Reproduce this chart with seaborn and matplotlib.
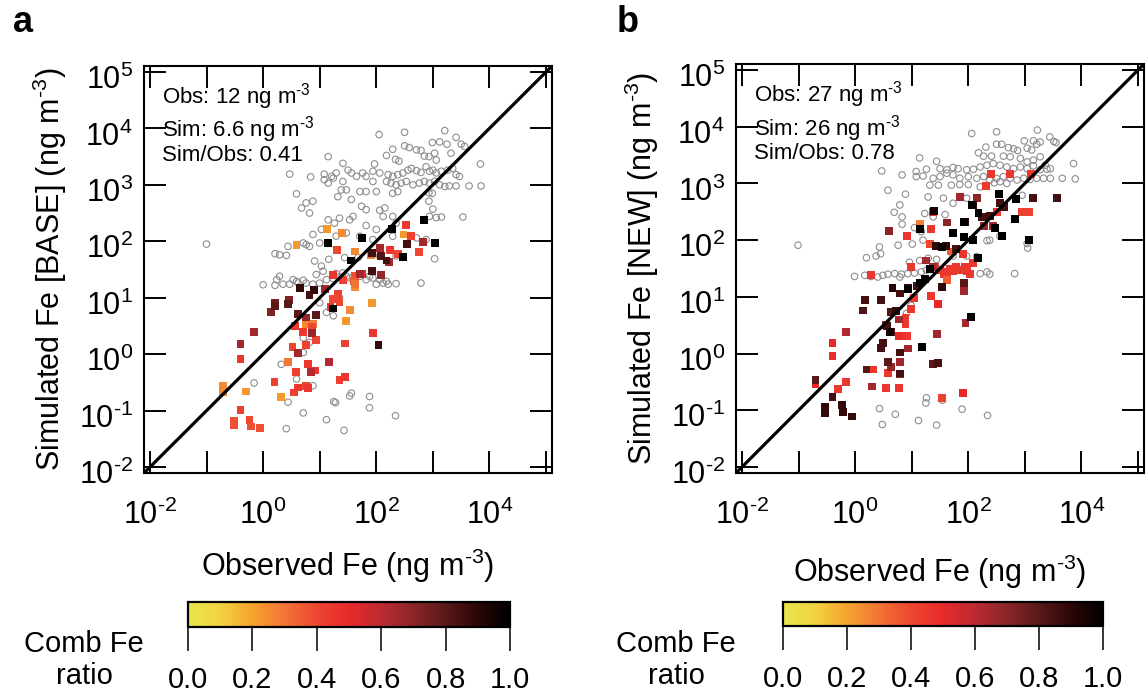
import numpy as np
import matplotlib
matplotlib.use("Agg")
import matplotlib.pyplot as plt
import seaborn as sns
from matplotlib.colors import LinearSegmentedColormap, Normalize
from matplotlib.cm import ScalarMappable
from matplotlib.ticker import LogLocator, NullLocator, FuncFormatter
from matplotlib.transforms import ScaledTranslation

# ---------------- data (log10 of ng m-3) ----------------
# panel a: BASE  -- grey open circles (all sites): (log10 obs, log10 sim)
base_gray = [
    (2.05, 3.89), (2.50, 3.93), (3.21, 3.96), (3.41, 3.84), (3.50, 3.72), (3.56, 3.68), (2.99, 3.75),
    (3.12, 3.76), (3.25, 3.72), (2.50, 3.69), (2.58, 3.66), (2.71, 3.62), (2.79, 3.61), (2.85, 3.51),
    (2.93, 3.50), (3.03, 3.56), (3.06, 3.44), (3.32, 3.56), (3.84, 3.37), (2.18, 3.52), (2.29, 3.63),
    (2.34, 3.45), (2.40, 3.42), (1.97, 3.37), (1.41, 3.38), (1.15, 3.50), (1.08, 3.19), (1.08, 3.09),
    (1.21, 3.15), (1.29, 3.21), (1.41, 3.06), (1.50, 3.26), (1.56, 3.21), (1.65, 3.15), (1.76, 3.21),
    (1.82, 3.15), (1.94, 3.24), (2.06, 3.21), (2.21, 3.18), (2.29, 3.15), (2.38, 3.18), (2.47, 3.21),
    (2.56, 3.26), (2.62, 3.29), (2.71, 3.25), (2.79, 3.22), (2.88, 3.32), (2.94, 3.24), (3.00, 3.26),
    (3.06, 3.21), (3.15, 3.24), (3.26, 3.26), (3.35, 3.29), (3.41, 3.18), (3.47, 3.15), (2.18, 3.06),
    (2.26, 3.03), (2.35, 3.00), (2.44, 3.03), (2.53, 3.06), (2.65, 3.00), (2.76, 3.03), (2.85, 3.06),
    (2.94, 3.03), (3.03, 3.06), (3.12, 3.00), (3.21, 2.97), (3.29, 2.98), (3.41, 2.98), (3.64, 2.98),
    (3.85, 2.98), (1.94, 3.06), (2.00, 2.88), (1.82, 2.88), (1.71, 2.88), (1.47, 2.91), (1.38, 2.91),
    (1.32, 2.79), (1.56, 2.74), (1.74, 2.62), (1.82, 2.56), (2.06, 2.55), (2.15, 2.59), (2.29, 2.85),
    (2.38, 2.88), (2.93, 2.86), (2.99, 2.85), (2.93, 2.71), (3.00, 2.57), (2.94, 2.44), (3.06, 2.42),
    (3.15, 2.43), (3.53, 2.43), (0.47, 3.19), (0.84, 3.14), (0.59, 2.84), (0.68, 2.59), (0.82, 2.50),
    (0.76, 2.68), (0.88, 2.71), (1.15, 3.03), (1.24, 3.12),
    (1.15, 2.38), (1.26, 2.32), (1.35, 2.41), (1.53, 2.38), (1.59, 2.44), (1.82, 2.28), (2.00, 2.21),
    (2.12, 2.44), (2.29, 2.44), (2.35, 2.32), (1.03, 2.21), (0.88, 2.12), (0.71, 1.97), (0.76, 1.94),
    (0.82, 1.91), (0.44, 1.91), (1.00, 1.97), (1.29, 2.09), (1.47, 2.15), (1.71, 2.09), (1.94, 2.03),
    (2.29, 2.09), (2.71, 2.06), (2.88, 2.03), (0.29, 1.76), (0.41, 1.75), (0.21, 1.78), (0.91, 1.65),
    (1.03, 1.56), (1.16, 1.68), (1.44, 1.71), (1.68, 1.71), (1.94, 1.76), (2.06, 1.74), (2.35, 1.74),
    (3.03, 1.69), (0.53, 1.32), (0.59, 1.29), (0.71, 1.31), (0.29, 1.38), (0.24, 1.32), (0.00, 1.23),
    (0.21, 1.22), (0.35, 1.24), (0.47, 1.24), (0.62, 1.26), (0.76, 1.26), (0.88, 1.24), (1.00, 1.26),
    (1.12, 1.32), (1.24, 1.34), (1.35, 1.37), (1.47, 1.38), (1.59, 1.32), (1.71, 1.38), (1.82, 1.32),
    (1.94, 1.35), (2.06, 1.32), (2.18, 1.29), (0.94, 1.41), (1.06, 1.47), (1.29, 1.43), (1.41, 1.44),
    (1.53, 1.35), (1.76, 1.41), (1.88, 1.38), (2.00, 1.24), (2.12, 1.26), (2.21, 1.24), (2.35, 1.25),
    (2.79, 1.26), (-1.00, 1.95), (1.00, 0.91), (1.12, 0.74), (1.24, 0.68), (1.35, 1.00), (0.71, 0.29),
    (0.82, 0.21), (0.71, 0.03), (0.32, -0.18), (0.59, -0.44), (0.88, -0.56), (0.44, -0.85), (0.41, -1.32),
    (0.71, -1.04), (1.12, -1.16), (1.25, -0.84), (1.28, -0.86), (1.43, -1.35), (1.53, -0.74), (1.56, -0.69),
    (1.88, -0.75), (1.88, -0.95), (2.34, -1.09), (-0.16, -0.51),
]
# panel a: BASE -- coloured squares (sites with combustion Fe ratio): (log10 obs, log10 sim, ratio)
base_sq = [
    (1.13, 2.21, 0.22), (1.40, 2.14, 0.25), (0.59, 1.94, 0.22), (1.62, 1.82, 0.25), (1.90, 1.75, 0.28),
    (2.48, 2.12, 0.22), (1.62, 1.18, 0.25), (1.92, 0.90, 0.22), (1.53, 0.79, 0.25), (1.46, 0.59, 0.22),
    (0.76, 0.53, 0.25), (0.88, 0.53, 0.28), (0.44, -0.14, 0.30), (-0.31, -0.66, 0.22), (0.32, -0.76, 0.22),
    (-0.71, -0.57, 0.25), (-0.71, -0.68, 0.25),
    (2.53, 2.29, 0.45), (2.62, 2.10, 0.42), (2.75, 1.81, 0.40), (1.31, 1.85, 0.40), (1.24, 1.41, 0.45),
    (1.41, 1.31, 0.42), (1.62, 1.38, 0.38), (1.74, 1.42, 0.50), (2.24, 1.85, 0.45), (2.38, 1.78, 0.42),
    (1.32, 1.06, 0.42), (1.24, 0.98, 0.40), (1.35, 0.93, 0.40), (1.19, 0.84, 0.45), (1.61, 1.29, 0.35),
    (1.62, 1.24, 0.30), (0.56, 0.50, 0.45), (0.71, 0.39, 0.45), (0.87, 0.48, 0.40), (0.93, 0.25, 0.40),
    (0.76, 0.16, 0.42), (0.52, 0.13, 0.40), (1.44, 0.19, 0.42), (1.94, 0.38, 0.45), (0.79, -0.18, 0.45),
    (0.58, -0.31, 0.42), (0.84, -0.32, 0.48), (0.92, -0.29, 0.45), (0.20, -0.50, 0.42), (0.55, -0.68, 0.42),
    (0.62, -0.59, 0.45), (0.76, -0.56, 0.40), (0.79, -0.60, 0.45), (1.35, -0.45, 0.42), (1.45, -0.41, 0.45),
    (-0.40, -0.09, 0.45), (-0.40, -0.99, 0.42), (-0.52, -1.19, 0.38), (-0.52, -1.26, 0.38), (-0.24, -1.16, 0.40),
    (-0.22, -1.28, 0.38), (-0.05, -1.31, 0.38),
    (2.83, 1.99, 0.65), (2.06, 1.88, 0.65), (2.22, 1.64, 0.65), (2.08, 1.40, 0.68), (1.71, 1.42, 0.65),
    (1.09, 1.15, 0.65), (0.76, 0.65, 0.68), (0.87, 0.38, 0.68), (0.62, 0.02, 0.65), (1.16, -0.14, 0.62),
    (0.84, -0.32, 0.62), (-0.16, 0.39, 0.65), (-0.40, 0.18, 0.65), (0.45, 0.96, 0.72), (0.14, 0.75, 0.72),
    (0.21, 0.91, 0.75),
    (1.92, 1.79, 0.85), (2.09, 1.74, 0.82), (2.18, 1.66, 0.85), (1.92, 1.47, 0.85), (0.65, 1.17, 0.88),
    (0.82, 1.05, 0.85), (0.90, 1.13, 0.88), (0.62, 0.71, 0.80), (0.93, 0.69, 0.80), (0.21, 0.85, 0.80),
    (0.44, 0.89, 0.80), (2.04, 0.17, 0.88), (2.55, 1.95, 0.85),
    (2.85, 2.38, 1.00), (2.28, 2.21, 1.00), (1.74, 2.06, 1.00), (1.14, 1.97, 1.00), (3.04, 1.97, 1.00),
    (2.47, 1.72, 1.00), (1.55, 1.66, 1.00), (1.24, 0.81, 1.00),
]

# panel b: NEW -- grey open circles
new_gray = [
    (2.06, 3.88), (2.50, 3.91), (3.22, 3.94), (2.99, 3.75), (3.15, 3.75), (3.27, 3.73), (3.44, 3.82),
    (3.51, 3.74), (3.55, 3.72), (2.31, 3.64), (2.50, 3.69), (2.59, 3.69), (2.71, 3.63), (2.80, 3.61),
    (2.87, 3.58), (3.04, 3.62), (3.12, 3.59), (3.21, 3.69), (2.18, 3.54), (2.27, 3.48), (2.41, 3.48),
    (2.62, 3.48), (2.74, 3.47), (2.92, 3.44), (3.04, 3.38), (3.15, 3.41), (3.27, 3.47), (3.36, 3.32),
    (3.45, 3.26), (3.86, 3.35), (1.14, 3.45), (1.44, 3.39), (1.26, 3.25), (1.08, 3.21), (0.83, 3.15),
    (0.47, 3.22), (1.50, 3.26), (1.62, 3.24), (1.73, 3.28), (1.82, 3.26), (1.97, 3.24), (2.09, 3.25),
    (2.21, 3.29), (2.33, 3.32), (2.44, 3.35), (2.56, 3.32), (2.68, 3.29), (2.80, 3.26), (2.92, 3.29),
    (3.04, 3.26), (3.15, 3.31), (3.27, 3.24), (3.39, 3.25), (1.08, 3.12), (1.20, 3.13), (1.38, 3.09),
    (1.50, 3.12), (1.62, 3.18), (1.73, 3.15), (1.85, 3.09), (2.00, 3.12), (2.15, 3.09), (2.27, 3.12),
    (2.38, 3.06), (2.50, 3.09), (2.62, 3.12), (2.74, 3.09), (2.86, 3.06), (2.98, 3.09), (3.09, 3.07),
    (3.21, 3.09), (3.33, 3.09), (3.45, 3.09), (3.66, 3.09), (3.89, 3.08), (1.32, 2.97), (1.47, 2.97),
    (1.70, 2.97), (1.85, 2.98), (2.00, 2.98), (2.21, 2.94), (2.46, 3.01), (2.56, 3.03), (2.68, 3.00),
    (0.58, 2.88), (0.89, 2.81), (1.29, 2.76), (1.56, 2.74), (1.73, 2.65), (1.97, 2.74), (2.95, 2.79),
    (0.79, 2.62), (0.69, 2.49), (0.83, 2.41), (0.83, 2.28), (1.23, 2.47), (1.38, 2.41), (1.59, 2.45),
    (1.05, 2.22), (1.17, 2.15), (1.20, 2.00), (1.01, 1.93), (0.76, 1.91), (0.43, 1.88), (0.45, 1.76),
    (0.37, 1.72), (0.20, 1.69), (0.96, 1.61), (1.14, 1.64), (1.29, 1.68), (1.44, 1.66), (1.73, 1.72),
    (1.97, 1.72), (2.15, 1.71), (2.33, 1.99), (2.38, 2.00), (2.56, 2.07), (3.04, 1.94), (3.05, 1.86),
    (-1.01, 1.91), (-0.01, 1.36), (0.17, 1.38), (0.28, 1.36), (0.40, 1.35), (0.49, 1.38), (0.58, 1.40),
    (0.70, 1.41), (0.82, 1.40), (0.93, 1.41), (1.05, 1.42), (1.17, 1.44), (1.26, 1.47), (0.79, 1.35),
    (2.21, 1.41), (2.33, 1.44), (2.38, 1.40), (2.82, 1.41), (1.26, -0.78), (1.25, -0.87), (1.54, -0.82),
    (1.89, -0.98), (0.43, -0.97), (0.71, -1.07), (0.48, -1.25), (1.12, -1.18), (1.44, -1.26), (2.34, -1.09),
    (0.99, 0.85), (0.91, 0.71),
]
# panel b: NEW -- coloured squares: (log10 obs, log10 sim, ratio)
new_sq = [
    (2.40, 3.16, 0.45), (2.74, 3.16, 0.45), (3.11, 3.16, 0.45), (2.31, 2.96, 0.45), (2.51, 2.49, 0.45),
    (2.95, 2.50, 0.42), (3.08, 2.50, 0.42), (1.37, 2.49, 0.45), (1.34, 2.19, 0.45), (0.92, 2.08, 0.45),
    (1.32, 1.93, 0.40), (1.91, 1.76, 0.45), (2.09, 1.60, 0.45), (0.98, 1.52, 0.45), (0.28, 1.39, 0.45),
    (1.41, 1.53, 0.45), (1.50, 1.47, 0.45), (1.62, 1.44, 0.45), (1.73, 1.46, 0.45), (1.85, 1.47, 0.45),
    (1.97, 1.46, 0.45), (2.03, 1.41, 0.45), (1.67, 1.50, 0.45), (1.79, 1.53, 0.45), (1.94, 1.52, 0.45),
    (1.57, 1.41, 0.45), (1.04, 0.98, 0.45), (1.34, 1.01, 0.45), (1.47, 0.87, 0.50), (0.89, 0.62, 0.45),
    (0.89, 0.52, 0.45), (0.92, 0.31, 0.45), (0.77, 0.31, 0.50), (-0.40, 0.18, 0.50), (-0.40, -0.05, 0.48),
    (-0.16, -0.50, 0.45), (-0.31, -0.62, 0.45), (0.31, -0.28, 0.45), (0.58, -0.34, 0.45), (0.55, -0.60, 0.45),
    (0.77, -0.60, 0.45), (1.53, -0.79, 0.42), (1.91, -0.69, 0.50), (-0.70, -0.53, 0.50), (0.98, 0.79, 0.45),
    (1.14, 2.28, 0.28), (1.69, 1.80, 0.35), (1.62, 1.29, 0.35),
    (1.85, 2.76, 0.65), (2.16, 2.75, 0.70), (1.62, 2.31, 0.70), (2.28, 2.25, 0.68), (2.44, 2.25, 0.65),
    (0.60, 2.16, 0.70), (1.25, 1.64, 0.65), (1.38, 1.52, 0.65), (1.93, 1.11, 0.65), (1.95, 0.54, 0.65),
    (1.44, 0.35, 0.65), (0.78, 0.60, 0.65), (0.55, 0.50, 0.68), (0.30, -0.58, 0.65), (-0.16, 0.38, 0.62),
    (0.93, 0.09, 0.65), (0.80, -0.15, 0.65), (0.64, -0.24, 0.68), (0.79, -0.36, 0.70),
    (2.09, 2.62, 0.88), (2.56, 2.66, 0.85), (3.15, 2.75, 0.85), (3.57, 2.75, 0.85), (2.63, 2.59, 0.85),
    (2.24, 2.41, 0.85), (2.38, 2.42, 0.85), (1.94, 2.32, 0.88), (1.73, 2.13, 0.88), (1.43, 1.89, 0.88),
    (1.60, 1.89, 0.90), (1.79, 1.85, 0.85), (1.32, 1.50, 0.88), (0.66, 1.16, 0.90), (0.93, 1.15, 0.90),
    (0.79, 1.06, 0.85), (1.10, 1.19, 0.85), (1.54, 1.18, 0.88), (0.17, 0.94, 0.85), (0.46, 0.95, 0.85),
    (0.14, 0.76, 0.82), (0.64, 0.74, 0.82), (0.73, 0.75, 0.88), (0.56, 0.48, 0.85), (0.63, 0.38, 0.80),
    (0.50, 0.18, 0.85), (0.45, 0.10, 0.85), (0.80, 0.02, 0.85), (1.18, 0.11, 0.88), (0.58, -0.15, 0.80),
    (0.20, -0.28, 0.80), (1.37, -0.19, 0.80), (1.47, -0.16, 0.85), (0.79, -0.35, 0.85), (-0.70, -0.47, 0.80),
    (-0.40, -0.76, 0.85), (-0.53, -0.94, 0.88), (-0.53, -1.05, 0.88), (-0.23, -0.91, 0.88), (-0.22, -1.03, 0.88),
    (-0.05, -1.11, 0.88), (1.93, 1.24, 0.80),
    (2.55, 2.81, 1.00), (2.85, 2.72, 1.00), (2.07, 2.62, 1.00), (2.18, 2.48, 1.00), (1.93, 2.32, 1.00),
    (1.14, 2.19, 1.00), (1.40, 2.52, 0.95), (2.83, 2.38, 1.00), (2.47, 2.21, 1.00), (2.59, 2.08, 1.00),
    (3.07, 2.00, 1.00), (2.17, 1.69, 1.00), (1.53, 1.88, 1.00), (2.09, 2.00, 1.00), (1.93, 2.06, 1.00),
    (1.73, 2.12, 1.00), (1.32, 1.49, 1.00), (1.24, 1.31, 1.00), (0.93, 1.13, 1.00), (1.14, 1.24, 1.00),
    (0.62, 0.38, 0.95), (2.05, 0.64, 1.00), (1.18, 0.12, 1.00),
]

SUP = r"$^{\text{-}3}$"
base_stats = ["Obs: 12 ng m" + SUP, "Sim: 6.6 ng m" + SUP, "Sim/Obs: 0.41"]
new_stats = ["Obs: 27 ng m" + SUP, "Sim: 26 ng m" + SUP, "Sim/Obs: 0.78"]
panel_letters = ["a", "b"]
ylabels = ["Simulated Fe [BASE] (ng m" + SUP + ")", "Simulated Fe [NEW] (ng m" + SUP + ")"]
xlabel = "Observed Fe (ng m" + SUP + ")"
cbar_ticks = [0.0, 0.2, 0.4, 0.6, 0.8, 1.0]
cbar_label = "Comb Fe\nratio"

# ---------------- style ----------------
sns.set_style("white")
plt.rcParams["font.family"] = ["Liberation Sans", "DejaVu Sans"]
plt.rcParams["mathtext.fontset"] = "custom"
plt.rcParams["mathtext.rm"] = "Liberation Sans"
plt.rcParams["mathtext.it"] = "Liberation Sans:italic"
plt.rcParams["mathtext.bf"] = "Liberation Sans:bold"
plt.rcParams["mathtext.default"] = "regular"
for k in ("text.color", "axes.labelcolor", "xtick.color", "ytick.color", "axes.edgecolor"):
    plt.rcParams[k] = "black"

cmap = LinearSegmentedColormap.from_list("combfe", [
    (0.00, "#e9e54c"), (0.10, "#f1d33e"), (0.20, "#f5a22f"), (0.30, "#f27436"),
    (0.40, "#ee4631"), (0.50, "#e8292a"), (0.60, "#bb2b31"), (0.70, "#8b2629"),
    (0.80, "#5a1819"), (0.90, "#2c0607"), (1.00, "#000000")])
norm = Normalize(0, 1)

W, H = 1148, 696
fig = plt.figure(figsize=(W / 100, H / 100), dpi=100)

LO, HI = 10 ** -2.105, 10 ** 5.105


def pow10(e):
    if e < 0:
        return r"$\mathdefault{10^{\text{-}%d}}$" % (-e)
    return r"$\mathdefault{10^{%d}}$" % e


def xfmt(v, pos):
    e = int(round(np.log10(v)))
    return pow10(e) if e % 2 == 0 else ""


def yfmt(v, pos):
    return pow10(int(round(np.log10(v))))


def panel(rect, gray, sq, stats, ylab, xlab_y):
    ax = fig.add_axes(rect)
    g = np.array(gray)
    s = np.array(sq)
    sns.scatterplot(x=10 ** g[:, 0], y=10 ** g[:, 1], ax=ax, marker="o", s=22,
                    facecolor="none", edgecolor="#8e8e8e", linewidth=0.8, zorder=2)
    sns.scatterplot(x=10 ** s[:, 0], y=10 ** s[:, 1], hue=s[:, 2], palette=cmap,
                    hue_norm=(0, 1), ax=ax, marker="s", s=32, linewidth=0,
                    legend=False, zorder=3)
    ax.set_xscale("log")
    ax.set_yscale("log")
    ax.set_xlim(LO, HI)
    ax.set_ylim(LO, HI)
    ax.axline((1, 1), (10, 10), color="black", lw=2.3, zorder=4)
    for a in (ax.xaxis, ax.yaxis):
        a.set_major_locator(LogLocator(base=10, numticks=20))
        a.set_minor_locator(NullLocator())
    ax.xaxis.set_major_formatter(FuncFormatter(xfmt))
    ax.yaxis.set_major_formatter(FuncFormatter(yfmt))
    ax.tick_params(which="major", direction="in", length=16, width=1.4,
                   top=True, right=True, bottom=True, left=True,
                   labelsize=22, color="black", labelcolor="black")
    ax.tick_params(axis="x", pad=19)
    ax.tick_params(axis="y", pad=8)
    for lab in ax.get_yticklabels():
        lab.set_transform(lab.get_transform() + ScaledTranslation(0, -5 / 100, fig.dpi_scale_trans))
    for sp in ax.spines.values():
        sp.set_linewidth(1.5)
        sp.set_color("black")
    ax.set_xlabel(xlab_y[0], fontsize=22)
    ax.set_ylabel(ylab, fontsize=22)
    ax.xaxis.set_label_coords(0.5, xlab_y[1])
    ax.yaxis.set_label_coords(-0.185, 0.5)
    ys = [0.909, 0.826, 0.767]
    for t, yy in zip(stats, ys):
        ax.text(0.044, yy, t, transform=ax.transAxes, fontsize=16, va="baseline", ha="left")
    return ax


ax_a = panel([144 / W, 1 - 473 / H, 408 / W, 407 / H], base_gray, base_sq, base_stats,
             ylabels[0], (xlabel, -0.18))
ax_b = panel([736 / W, 1 - 473 / H, 408 / W, 409 / H], new_gray, new_sq, new_stats,
             ylabels[1], (xlabel, -0.195))

fig.text(13 / W, 1 - 22 / H, panel_letters[0], fontsize=26, fontweight="bold", va="center", ha="left")
fig.text(617 / W, 1 - 22 / H, panel_letters[1], fontsize=26, fontweight="bold", va="center", ha="left")

# colour bars
for rect, lx in (([188 / W, 1 - 627 / H, 322 / W, 25 / H], 84),
                 ([783 / W, 1 - 626 / H, 320 / W, 24 / H], 676)):
    cax = fig.add_axes(rect)
    sm = ScalarMappable(norm=norm, cmap=cmap)
    cb = fig.colorbar(sm, cax=cax, orientation="horizontal", ticks=cbar_ticks)
    cb.outline.set_linewidth(1.6)
    cb.outline.set_edgecolor("black")
    cax.set_xticklabels(["%.1f" % t for t in cbar_ticks])
    cax.tick_params(axis="x", direction="out", length=17, width=1.1, labelsize=21, pad=11,
                    bottom=True, color="black", labelcolor="black")
    fig.text(lx / W, 1 - 660 / H, cbar_label, fontsize=21, ha="center", va="center",
             linespacing=1.2)

fig.savefig("out.png", dpi=100)
